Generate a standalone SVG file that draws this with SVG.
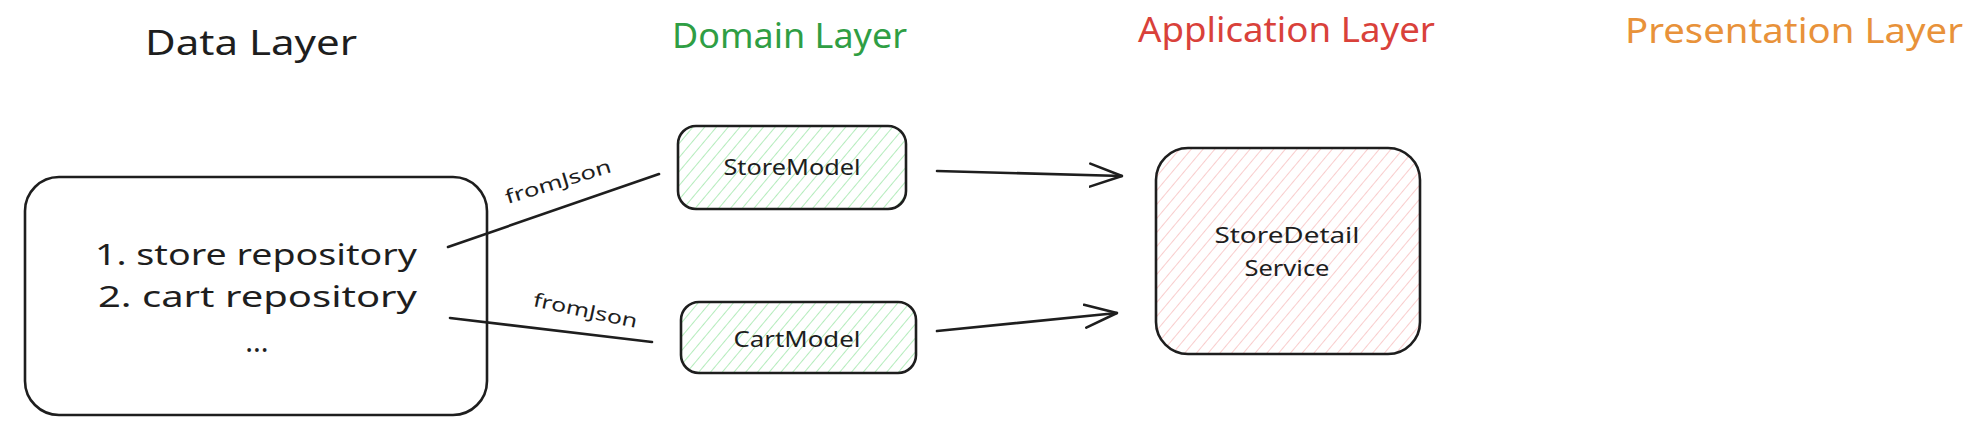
<svg xmlns="http://www.w3.org/2000/svg" width="1988" height="448" viewBox="0 0 1988 448">
<style>
.t{font-family:"Noto Sans","DejaVu Sans",sans-serif;fill:#1e1e1e}
.title{font-size:34px}
.box{stroke:#1e1e1e;stroke-width:2.6;stroke-linejoin:round}
.conn{stroke:#1e1e1e;stroke-width:2.6;fill:none;stroke-linecap:round;stroke-linejoin:round}
</style>
<defs>
<pattern id="hg" width="9" height="9" patternUnits="userSpaceOnUse" patternTransform="rotate(40)">
<line x1="0" y1="0" x2="0" y2="9" stroke="#a6e9b0" stroke-width="1.7"/>
</pattern>
<pattern id="hr" width="9" height="9" patternUnits="userSpaceOnUse" patternTransform="rotate(40)">
<line x1="0" y1="0" x2="0" y2="9" stroke="#f8c4c4" stroke-width="1.7"/>
</pattern>
<marker id="ah" viewBox="0 0 34 26" refX="33" refY="13" markerWidth="34" markerHeight="26" markerUnits="userSpaceOnUse" orient="auto">
<path d="M1,1.5 L33,13 L1,24.5" fill="none" stroke="#1e1e1e" stroke-width="2.6" stroke-linecap="round" stroke-linejoin="round"/>
</marker>
</defs>
<rect width="1988" height="448" fill="#ffffff"/>

<g id="title-data"><text class="t title" x="145" y="55" textLength="212" lengthAdjust="spacingAndGlyphs">Data Layer</text></g>
<g id="title-domain"><text class="t title" x="672" y="48" textLength="235" lengthAdjust="spacingAndGlyphs" style="fill:#2f9e44">Domain Layer</text></g>
<g id="title-application"><text class="t title" x="1138" y="42" textLength="297" lengthAdjust="spacingAndGlyphs" style="fill:#d9413a">Application Layer</text></g>
<g id="title-presentation"><text class="t title" x="1625" y="43" textLength="338" lengthAdjust="spacingAndGlyphs" style="fill:#e8923a">Presentation Layer</text></g>

<g id="data-layer">
<rect class="box" x="25" y="177" width="462" height="238" rx="34" fill="#ffffff"/>
<text class="t" font-size="29" x="95" y="265" textLength="322" lengthAdjust="spacingAndGlyphs">1. store repository</text>
<text class="t" font-size="29" x="98" y="307" textLength="319" lengthAdjust="spacingAndGlyphs">2. cart repository</text>
<text class="t" font-size="29" x="257" y="352" text-anchor="middle">...</text>
</g>

<g id="store-model">
<rect class="box" x="678" y="126" width="228" height="83" rx="18" fill="url(#hg)"/>
<text class="t" font-size="22" x="792" y="175" text-anchor="middle" textLength="137" lengthAdjust="spacingAndGlyphs">StoreModel</text>
</g>

<g id="cart-model">
<rect class="box" x="681" y="302" width="235" height="71" rx="18" fill="url(#hg)"/>
<text class="t" font-size="22" x="797" y="347" text-anchor="middle" textLength="127" lengthAdjust="spacingAndGlyphs">CartModel</text>
</g>

<g id="store-detail-service">
<rect class="box" x="1156" y="148" width="264" height="206" rx="32" fill="url(#hr)"/>
<text class="t" font-size="22" x="1287" y="243" text-anchor="middle" textLength="145" lengthAdjust="spacingAndGlyphs">StoreDetail</text>
<text class="t" font-size="22" x="1287" y="276" text-anchor="middle" textLength="85" lengthAdjust="spacingAndGlyphs">Service</text>
</g>

<g id="connectors">
<line class="conn" x1="448" y1="247" x2="659" y2="174"/>
<text class="t" font-size="19" x="0" y="0" text-anchor="middle" transform="translate(560,188) rotate(-17)" textLength="110" lengthAdjust="spacingAndGlyphs">fromJson</text>
<line class="conn" x1="450" y1="318" x2="652" y2="342"/>
<text class="t" font-size="19" x="0" y="0" text-anchor="middle" transform="translate(584,317) rotate(12)" textLength="106" lengthAdjust="spacingAndGlyphs">fromJson</text>
<line class="conn" x1="937" y1="171" x2="1122" y2="176" marker-end="url(#ah)"/>
<line class="conn" x1="937" y1="331" x2="1117" y2="313" marker-end="url(#ah)"/>
</g>
</svg>
